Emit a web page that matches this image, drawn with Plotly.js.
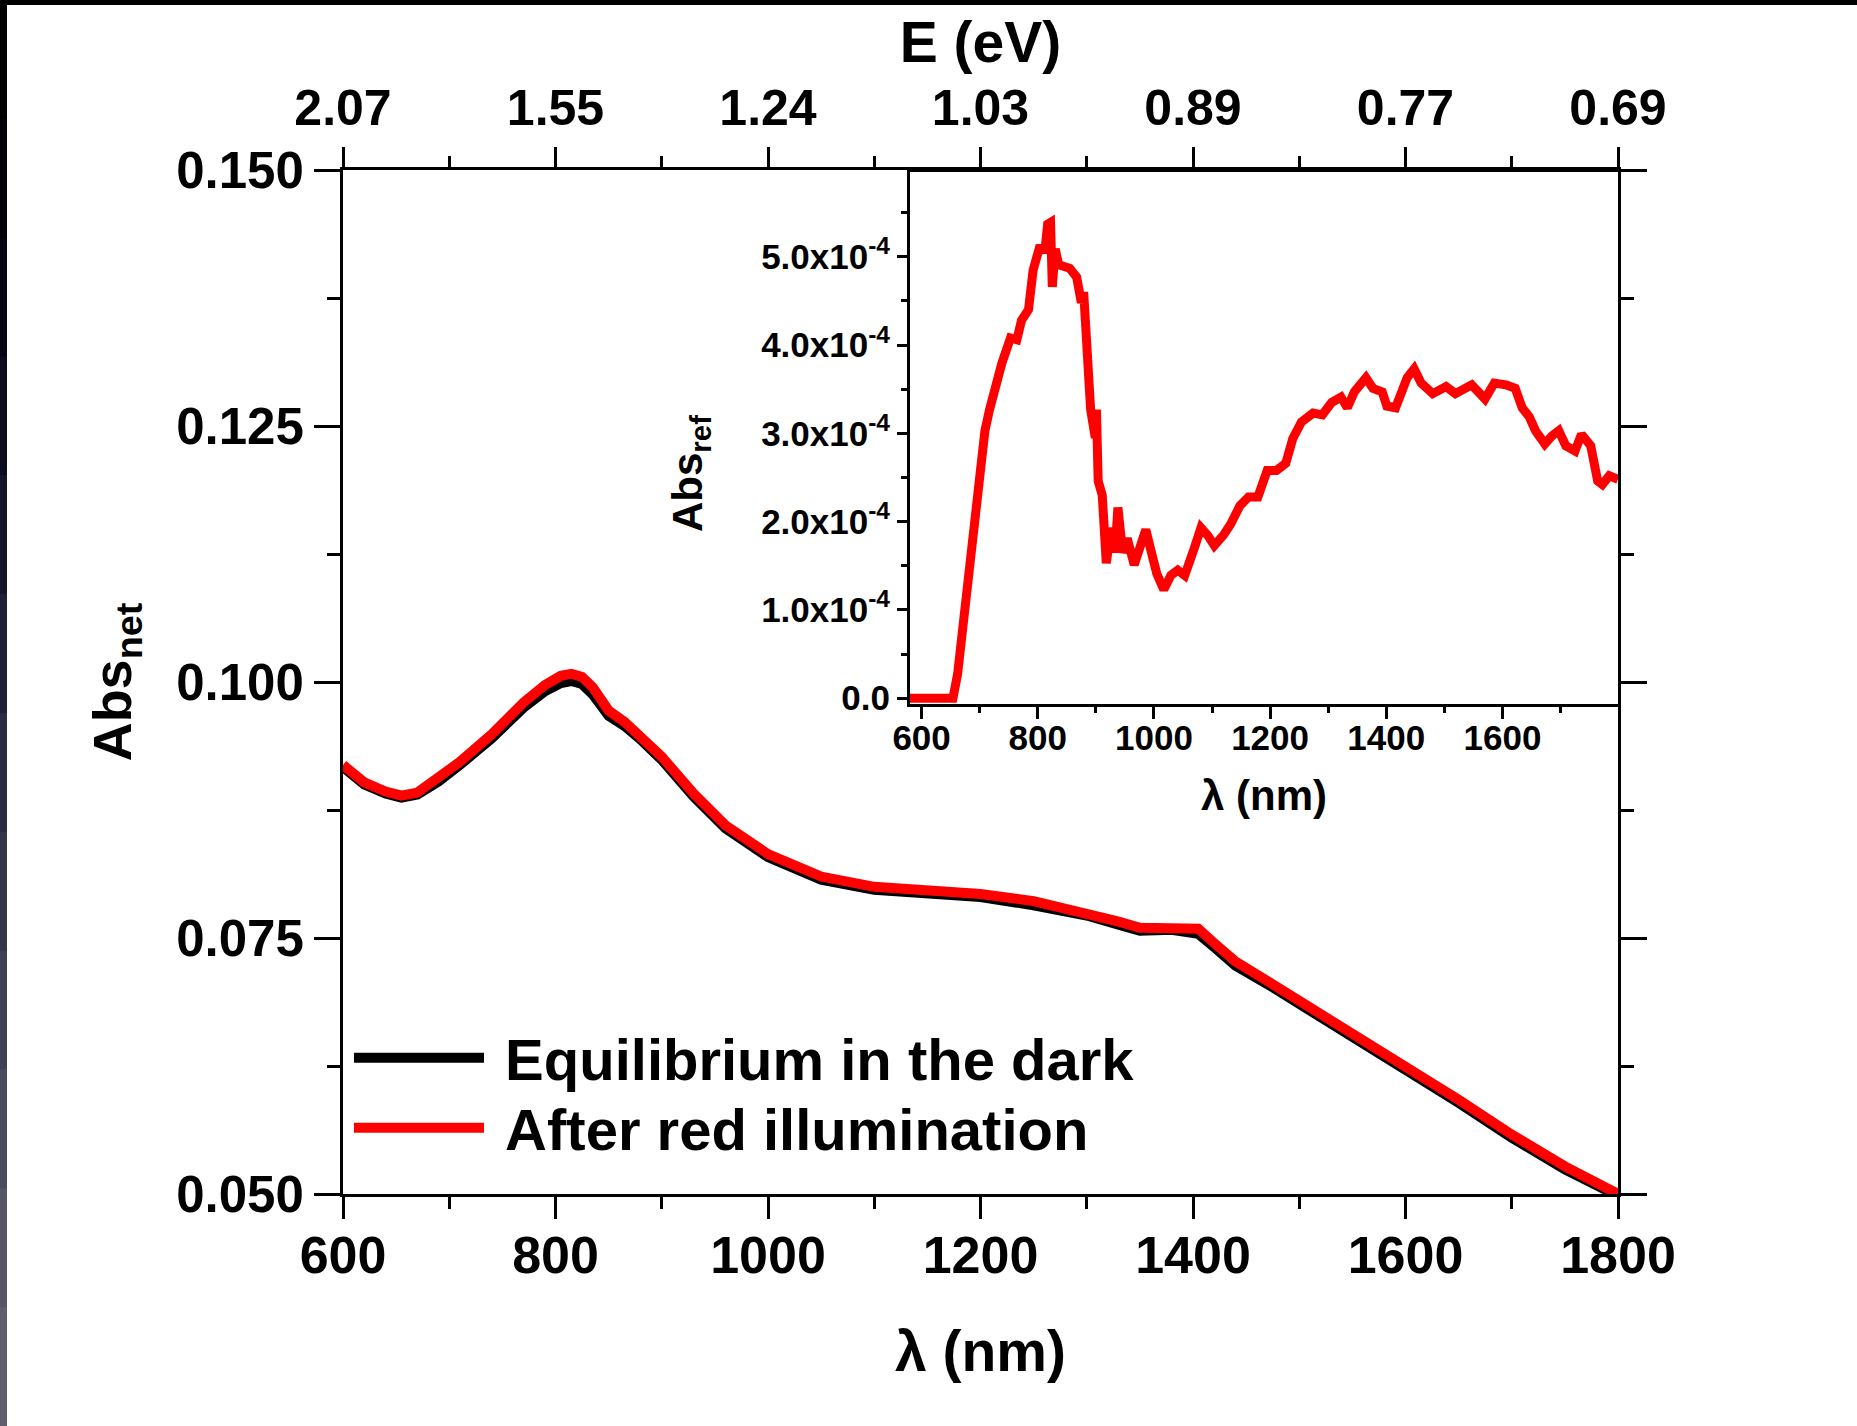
<!DOCTYPE html>
<html>
<head>
<meta charset="utf-8">
<script src="https://cdn.plot.ly/plotly-3.0.1.min.js"></script>
<style>
  html, body { margin: 0; padding: 0; background: #ffffff; }
  #chart { width: 1857px; height: 1426px; }
</style>
</head>
<body>
<div id="chart"></div>
<script>
// ---------------- data ----------------
const wavelength = [600, 620, 640, 655, 670, 690, 710, 740, 770, 790, 805, 815, 825, 835, 850, 865, 880, 900, 930, 960, 1000, 1050, 1100, 1150, 1200, 1250, 1300, 1330, 1350, 1380, 1405, 1420, 1440, 1470, 1500, 1550, 1600, 1650, 1700, 1750, 1800];
const absDark = [0.0917, 0.0900, 0.0891, 0.0887, 0.0890, 0.0903, 0.0919, 0.0945, 0.0975, 0.0991, 0.0999, 0.1001, 0.0998, 0.0988, 0.0967, 0.0957, 0.0944, 0.0924, 0.0888, 0.0857, 0.0829, 0.0807, 0.0797, 0.0793, 0.0790, 0.0782, 0.0772, 0.0763, 0.0757, 0.0758, 0.0754, 0.0741, 0.0723, 0.0705, 0.0686, 0.0655, 0.0622, 0.0589, 0.0555, 0.0524, 0.0498];
const absRed = [0.0919, 0.0902, 0.0893, 0.0889, 0.0892, 0.0906, 0.0922, 0.0949, 0.0980, 0.0997, 0.1006, 0.1008, 0.1005, 0.0995, 0.0972, 0.0961, 0.0947, 0.0927, 0.0891, 0.0860, 0.0832, 0.0810, 0.0800, 0.0796, 0.0793, 0.0786, 0.0775, 0.0766, 0.0760, 0.0760, 0.0759, 0.0745, 0.0727, 0.0708, 0.0689, 0.0658, 0.0625, 0.0592, 0.0558, 0.0527, 0.0500];

const refWavelength = [580, 654, 662, 673, 685, 697, 709, 717, 729, 738, 753, 764, 772, 784, 792, 804, 812, 817, 822, 825, 830, 836, 855, 867, 875, 879, 883, 887, 891, 899, 901, 904, 911, 918, 926, 933, 938, 946, 954, 966, 978, 986, 998, 1005, 1017, 1029, 1041, 1053, 1069, 1081, 1092, 1104, 1120, 1132, 1148, 1163, 1179, 1195, 1211, 1227, 1239, 1254, 1274, 1290, 1306, 1322, 1333, 1345, 1365, 1377, 1393, 1401, 1416, 1428, 1436, 1448, 1460, 1480, 1503, 1519, 1547, 1570, 1586, 1606, 1622, 1634, 1646, 1657, 1673, 1685, 1697, 1709, 1725, 1736, 1752, 1764, 1772, 1784, 1799];
const absRef = [0, 0, 0.275e-4, 0.96e-4, 1.69e-4, 2.46e-4, 3.03e-4, 3.27e-4, 3.59e-4, 3.79e-4, 4.08e-4, 4.06e-4, 4.28e-4, 4.40e-4, 4.85e-4, 5.13e-4, 5.05e-4, 5.37e-4, 5.39e-4, 4.66e-4, 5.09e-4, 4.91e-4, 4.87e-4, 4.77e-4, 4.48e-4, 4.60e-4, 4.16e-4, 3.67e-4, 3.27e-4, 2.95e-4, 3.27e-4, 2.46e-4, 2.30e-4, 1.53e-4, 1.93e-4, 1.65e-4, 2.16e-4, 1.65e-4, 1.81e-4, 1.51e-4, 1.77e-4, 1.91e-4, 1.59e-4, 1.41e-4, 1.23e-4, 1.39e-4, 1.45e-4, 1.39e-4, 1.69e-4, 1.93e-4, 1.85e-4, 1.73e-4, 1.85e-4, 1.97e-4, 2.18e-4, 2.28e-4, 2.28e-4, 2.58e-4, 2.58e-4, 2.66e-4, 2.94e-4, 3.13e-4, 3.23e-4, 3.21e-4, 3.35e-4, 3.41e-4, 3.29e-4, 3.47e-4, 3.63e-4, 3.51e-4, 3.47e-4, 3.31e-4, 3.29e-4, 3.47e-4, 3.63e-4, 3.73e-4, 3.57e-4, 3.45e-4, 3.53e-4, 3.45e-4, 3.55e-4, 3.39e-4, 3.57e-4, 3.55e-4, 3.51e-4, 3.29e-4, 3.19e-4, 3.03e-4, 2.88e-4, 2.97e-4, 3.03e-4, 2.86e-4, 2.80e-4, 2.99e-4, 2.86e-4, 2.46e-4, 2.42e-4, 2.52e-4, 2.48e-4];

const mainTickVals = [600, 800, 1000, 1200, 1400, 1600, 1800];
const energyTickText = ['2.07', '1.55', '1.24', '1.03', '0.89', '0.77', '0.69'];
const mainYTickVals = [0.050, 0.075, 0.100, 0.125, 0.150];
const insetXTickVals = [600, 800, 1000, 1200, 1400, 1600];
const insetYTickVals = [0, 1e-4, 2e-4, 3e-4, 4e-4, 5e-4];
const insetYTickText = ['0.0', '1.0x10<sup>-4</sup>', '2.0x10<sup>-4</sup>', '3.0x10<sup>-4</sup>', '4.0x10<sup>-4</sup>', '5.0x10<sup>-4</sup>'];
const seriesNames = ['Equilibrium in the dark', 'After red illumination'];

// ---------------- style ----------------
const FONT = 'Liberation Sans, Arial, sans-serif';
const bold = (size) => ({ family: FONT, size: size, color: '#000000', weight: 'bold' });

const traces = [
  { x: wavelength, y: absDark, xaxis: 'x', yaxis: 'y', type: 'scatter', mode: 'lines',
    name: '\u00a0' + seriesNames[0], legend: 'legend', line: { color: '#000000', width: 10 } },
  { x: wavelength, y: absRed, xaxis: 'x2', yaxis: 'y', type: 'scatter', mode: 'lines',
    name: '\u00a0' + seriesNames[1], legend: 'legend2', line: { color: '#ff0000', width: 10 } },
  { x: refWavelength, y: absRef, xaxis: 'x3', yaxis: 'y3', type: 'scatter', mode: 'lines',
    showlegend: false, line: { color: '#ff0000', width: 9 } }
];

const axisCommon = {
  showline: true, linecolor: '#000000', linewidth: 3,
  showgrid: false, zeroline: false, ticks: 'outside', tickcolor: '#000000', tickwidth: 3,
  automargin: false
};

const W = 1857, H = 1426, L = 343, R = 239, T = 170, B = 232;
const pw = W - L - R, ph = H - T - B;
const px = (v) => (v - L) / pw;
const py = (v) => (H - B - v) / ph;

// decorative screenshot border (dark strip left, black strip top)
const stripColors = ['#000000', '#02020a', '#050514', '#0c0c1e', '#15152a', '#1f1f35', '#2a2a40', '#35354a', '#404055', '#4b4b5e', '#555566', '#5e5e6e'];
const shapes = [];
stripColors.forEach((c, i) => {
  const y0 = i * H / stripColors.length, y1 = (i + 1) * H / stripColors.length + 1;
  shapes.push({ type: 'rect', xref: 'paper', yref: 'paper', x0: px(0), x1: px(7), y0: py(y1), y1: py(y0),
    fillcolor: c, line: { width: 0 }, layer: 'above' });
});
shapes.push({ type: 'rect', xref: 'paper', yref: 'paper', x0: px(0), x1: px(W), y0: py(5), y1: py(0),
  fillcolor: '#000000', line: { width: 0 }, layer: 'above' });

const legendCommon = {
  xanchor: 'left', yanchor: 'middle',
  bgcolor: 'rgba(0,0,0,0)', borderwidth: 0,
  font: bold(58), itemwidth: 130
};

const layout = {
  width: W, height: H,
  margin: { l: L, r: R, t: T, b: B, pad: 0 },
  paper_bgcolor: '#ffffff', plot_bgcolor: '#ffffff',
  showlegend: true,
  legend: Object.assign({}, legendCommon, { x: px(355) - px(349), y: py(1058) }),
  legend2: Object.assign({}, legendCommon, { x: px(355) - px(349), y: py(1128) }),
  xaxis: Object.assign({}, axisCommon, {
    domain: [0, 1], anchor: 'y', range: [600, 1800],
    tickmode: 'array', tickvals: mainTickVals, ticklen: 22,
    tickfont: bold(52), ticklabelstandoff: -8,
    minor: { ticks: 'outside', ticklen: 12, tickwidth: 3, tickcolor: '#000000', dtick: 100, tick0: 600, showgrid: false },
    title: { text: 'λ (nm)', font: bold(57), standoff: 48 }
  }),
  xaxis2: Object.assign({}, axisCommon, {
    overlaying: 'x', side: 'top', anchor: 'y', range: [600, 1800],
    tickmode: 'array', tickvals: mainTickVals, ticktext: energyTickText, ticklen: 20,
    tickfont: bold(50), ticklabelstandoff: 2,
    minor: { ticks: 'outside', ticklen: 11, tickwidth: 3, tickcolor: '#000000', dtick: 100, tick0: 600, showgrid: false },
    title: { text: 'E (eV)', font: bold(57), standoff: 0 }
  }),
  yaxis: Object.assign({}, axisCommon, {
    domain: [0, 1], anchor: 'x', range: [0.05, 0.15],
    tickmode: 'array', tickvals: mainYTickVals, tickformat: '.3f', ticklen: 26,
    mirror: 'ticks',
    tickfont: bold(51),
    minor: { ticks: 'outside', ticklen: 13, tickwidth: 3, tickcolor: '#000000', dtick: 0.0125, tick0: 0.05, showgrid: false },
    title: { text: 'Abs<sub>net</sub>', font: bold(54), standoff: 28 }
  }),
  xaxis3: Object.assign({}, axisCommon, {
    domain: [0.4447, 1], anchor: 'y3', range: [580, 1799], mirror: true,
    tickmode: 'array', tickvals: insetXTickVals, ticklen: 12,
    tickfont: bold(35), ticklabelstandoff: -11,
    minor: { ticks: 'outside', ticklen: 6, tickwidth: 3, tickcolor: '#000000', dtick: 100, tick0: 600, showgrid: false },
    title: { text: 'λ (nm)', font: bold(42), standoff: 26 }
  }),
  yaxis3: Object.assign({}, axisCommon, {
    domain: [0.479, 0.998], anchor: 'x3', range: [-0.06e-4, 5.96e-4], mirror: true,
    tickmode: 'array', tickvals: insetYTickVals, ticktext: insetYTickText, ticklen: 10,
    tickfont: bold(35),
    minor: { ticks: 'outside', ticklen: 6, tickwidth: 3, tickcolor: '#000000', dtick: 0.5e-4, tick0: 0, showgrid: false }
  }),
  annotations: [
    { text: 'Abs<sub>ref</sub>', xref: 'paper', yref: 'paper', x: px(690), y: py(474),
      xanchor: 'center', yanchor: 'middle', textangle: -90, showarrow: false, font: bold(42) }
  ],
  shapes: shapes
};

Plotly.newPlot('chart', traces, layout, { staticPlot: true, displayModeBar: false });
</script>
</body>
</html>
